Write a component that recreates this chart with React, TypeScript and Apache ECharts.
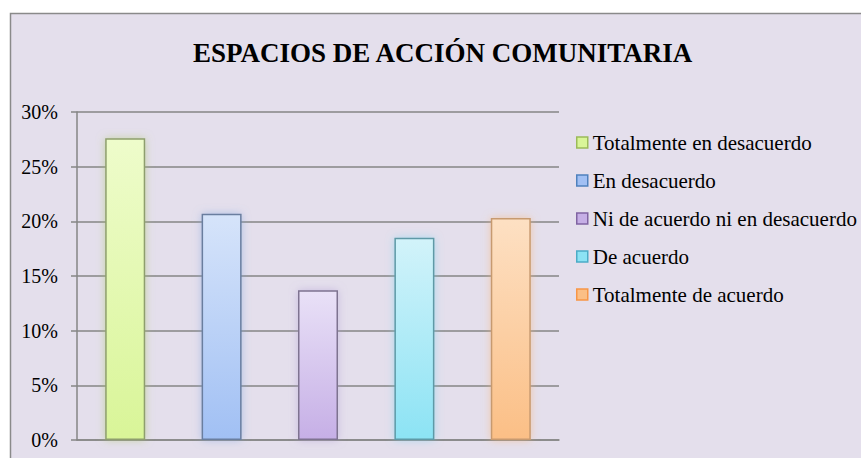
import React, { useEffect, useRef } from "react";
import * as echarts from "echarts";

const title = "ESPACIOS DE ACCIÓN COMUNITARIA";
const categories = ["Espacios de acción comunitaria"];
const seriesNames = [
  "Totalmente en desacuerdo",
  "En desacuerdo",
  "Ni de acuerdo ni en desacuerdo",
  "De acuerdo",
  "Totalmente de acuerdo",
];
const seriesValues = [27.6, 20.7, 13.7, 18.5, 20.3];
const yTicks = { min: 0, max: 30, interval: 5 };

const palette = [
  { top: "#EEFCCB", bottom: "#D9F598", border: "#8E9E6E", glow: "rgba(170,200,100,0.55)", legendBorder: "#9BBB59" },
  { top: "#D6E4FA", bottom: "#A1C0F4", border: "#6A7E9F", glow: "rgba(120,160,220,0.5)", legendBorder: "#4F81BD" },
  { top: "#E9E1F7", bottom: "#C6AFE6", border: "#7E7390", glow: "rgba(170,150,210,0.5)", legendBorder: "#8064A2" },
  { top: "#D2F3FA", bottom: "#8CE3F4", border: "#5E99A6", glow: "rgba(110,210,235,0.5)", legendBorder: "#4BACC6" },
  { top: "#FDE0C3", bottom: "#FBBF86", border: "#C79A70", glow: "rgba(250,180,110,0.55)", legendBorder: "#F79646" },
];

export default function App() {
  const ref = useRef<HTMLDivElement>(null);
  useEffect(() => {
    if (!ref.current) return;
    const chart = echarts.init(ref.current, null, { renderer: "svg" });
    const font = "Liberation Serif, serif";
    chart.setOption({
      animation: false,
      backgroundColor: "#FFFFFF",
      graphic: [
        {
          type: "rect",
          silent: true,
          z: -100,
          shape: { x: 10.5, y: 13.5, width: 900, height: 500 },
          style: { fill: "#E4DFEC", stroke: "#8A8A8A", lineWidth: 1.5 },
        },
      ],
      title: {
        text: title,
        left: 193,
        top: 39,
        padding: 0,
        textStyle: { fontFamily: font, fontSize: 27, fontWeight: "bold", color: "#000000" },
      },
      legend: {
        orient: "vertical",
        left: 571,
        top: 127,
        itemWidth: 11,
        itemHeight: 11,
        itemGap: 17,
        icon: "rect",
        textStyle: { fontFamily: font, fontSize: 21, color: "#000000" },
        data: seriesNames.map((n, i) => ({
          name: n,
          itemStyle: {
            color: palette[i].bottom,
            borderColor: palette[i].legendBorder,
            borderWidth: 1.5,
          },
        })),
      },
      grid: { left: 77, right: 302, top: 112, bottom: 18, containLabel: false },
      xAxis: {
        type: "category",
        data: categories,
        axisLine: { show: true, lineStyle: { color: "#868686", width: 1.5 } },
        axisTick: { show: false },
        axisLabel: { show: false },
      },
      yAxis: {
        type: "value",
        min: yTicks.min,
        max: yTicks.max,
        interval: yTicks.interval,
        axisLine: { show: true, lineStyle: { color: "#868686", width: 1.5 } },
        axisTick: { show: true, length: 6, lineStyle: { color: "#868686", width: 1.5 } },
        axisLabel: {
          formatter: "{value}%",
          margin: 19,
          fontFamily: font,
          fontSize: 20,
          color: "#000000",
        },
        splitLine: { show: true, lineStyle: { color: "#868686", width: 1.5 } },
      },
      series: seriesNames.map((n, i) => ({
        name: n,
        type: "bar",
        barWidth: 40,
        barGap: "141%",
        data: [seriesValues[i]],
        itemStyle: {
          color: new echarts.graphic.LinearGradient(0, 0, 0, 1, [
            { offset: 0, color: palette[i].top },
            { offset: 1, color: palette[i].bottom },
          ]),
          borderColor: palette[i].border,
          borderWidth: 1.5,
          shadowBlur: 8,
          shadowColor: palette[i].glow,
        },
      })),
    });
    return () => chart.dispose();
  }, []);
  return (
    <div
      ref={ref}
      style={{ position: "fixed", left: 0, top: 0, width: 861, height: 458 }}
    />
  );
}
